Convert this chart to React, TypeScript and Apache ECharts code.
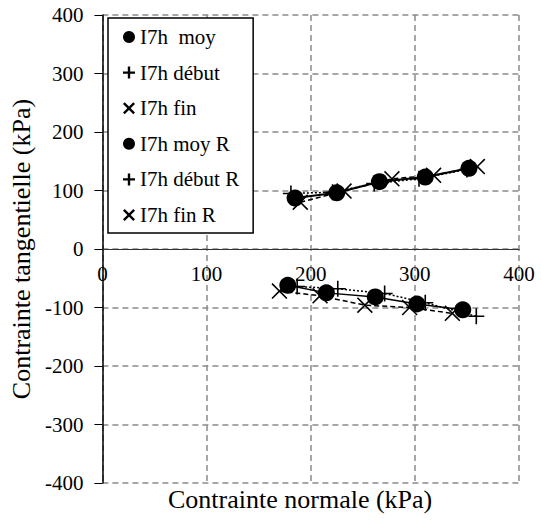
import React, { useEffect, useRef } from "react";
import * as echarts from "echarts";

const seriesNames = ["I7h  moy", "I7h début", "I7h fin", "I7h moy R", "I7h début R", "I7h fin R"];
const moy = [[185, 87], [225, 96], [266, 115], [310, 123], [352, 138]];
const debut = [[181, 95], [221, 97], [261, 112], [304, 120], [350, 136]];
const fin = [[190, 80], [232, 99], [278, 120], [318, 126], [360, 141]];
const moyR = [[178, -62], [215, -75], [262, -82], [302, -94], [346, -104]];
const debutR = [[187, -64], [226, -68], [271, -76], [310, -92], [359, -115]];
const finR = [[170, -72], [209, -80], [252, -96], [295, -100], [336, -110]];
const xTicks = [0, 100, 200, 300, 400];
const yTicks = [-400, -300, -200, -100, 0, 100, 200, 300, 400];

const PLUS = "path://M9,0H11V9H20V11H11V20H9V11H0V9H9Z";
const CROSS =
  "path://M1.4,0L10,8.6L18.6,0L20,1.4L11.4,10L20,18.6L18.6,20L10,11.4L1.4,20L0,18.6L8.6,10L0,1.4Z";
const PLUS_BOLD = "path://M8,0H12V8H20V12H12V20H8V12H0V8H8Z";
const CROSS_BOLD =
  "path://M2.8,0L10,7.2L17.2,0L20,2.8L12.8,10L20,17.2L17.2,20L10,12.8L2.8,20L0,17.2L7.2,10L0,2.8Z";
const FONT = "Liberation Serif, Times New Roman, serif";

export default function App() {
  const ref = useRef<HTMLDivElement>(null);
  useEffect(() => {
    if (!ref.current) return;
    const chart = echarts.init(ref.current, null, { renderer: "svg" });
    const datasets = [moy, debut, fin, moyR, debutR, finR];
    const symbols = ["circle", PLUS, CROSS, "circle", PLUS, CROSS];
    const legendIcons = ["circle", PLUS_BOLD, CROSS_BOLD, "circle", PLUS_BOLD, CROSS_BOLD];
    const lineTypes: any[] = ["solid", [2, 2], [5, 3], "solid", [2, 2], [5, 3]];
    const widths = [2, 1.5, 1.5, 1.5, 1.5, 1.5];
    const series = datasets.map((d, i) => ({
      name: seriesNames[i],
      type: "line",
      data: d,
      symbol: symbols[i],
      symbolSize: symbols[i] === "circle" ? 17 : 16,
      showSymbol: true,
      itemStyle: { color: "#000" },
      lineStyle: { color: "#000", width: widths[i], type: lineTypes[i] },
      z: symbols[i] === "circle" ? 3 : 4,
    }));
    const gridLine = { show: true, lineStyle: { color: "#8a8a8a", width: 1.5, type: [6, 4] } };
    const top = 15;
    const bottom = 41;
    const plotH = 524 - top - bottom;
    const zeroOffset = plotH * (0 - yTicks[0]) / (yTicks[yTicks.length - 1] - yTicks[0]);
    chart.setOption({
      animation: false,
      backgroundColor: "#fff",
      grid: { left: 96, right: 22, top, bottom, containLabel: false },
      xAxis: {
        type: "value",
        position: "bottom",
        offset: -zeroOffset,
        min: xTicks[0],
        max: xTicks[xTicks.length - 1],
        interval: 100,
        axisLine: { show: true, onZero: false, lineStyle: { color: "#333", width: 1.2 } },
        axisTick: { show: false },
        axisLabel: { fontSize: 21, color: "#000", fontFamily: FONT, margin: 14 },
        splitLine: gridLine,
      },
      yAxis: {
        type: "value",
        min: yTicks[0],
        max: yTicks[yTicks.length - 1],
        interval: 100,
        name: "Contrainte tangentielle (kPa)",
        nameLocation: "middle",
        nameGap: 60,
        nameTextStyle: { fontSize: 26, color: "#000", fontFamily: FONT },
        axisLine: { show: true, onZero: false, lineStyle: { color: "#000", width: 1.5 } },
        axisTick: { show: true, inside: false, length: 8, lineStyle: { color: "#000" } },
        axisLabel: { fontSize: 21, color: "#000", fontFamily: FONT, margin: 19 },
        splitLine: gridLine,
      },
      legend: {
        orient: "vertical",
        left: 108,
        top: 18,
        backgroundColor: "#fff",
        borderColor: "#000",
        borderWidth: 1.5,
        borderRadius: 0,
        padding: [8, 14, 7, 15],
        itemWidth: 12,
        itemHeight: 12,
        itemGap: 13.6,
        textStyle: { fontSize: 21, color: "#000", fontFamily: FONT, lineHeight: 22 },
        data: seriesNames.map((n, i) => ({
          name: n,
          icon: legendIcons[i],
          itemStyle: { color: "#000" },
        })),
      },
      graphic: [
        {
          type: "text",
          left: 298 - 130,
          top: 486,
          style: {
            text: "Contrainte normale (kPa)",
            fontSize: 26,
            fill: "#000",
            fontFamily: FONT,
          },
        },
      ],
      series,
    });
    return () => chart.dispose();
  }, []);
  return (
    <div
      ref={ref}
      style={{ position: "fixed", left: 0, top: 0, width: 541, height: 524, background: "#fff" }}
    />
  );
}
